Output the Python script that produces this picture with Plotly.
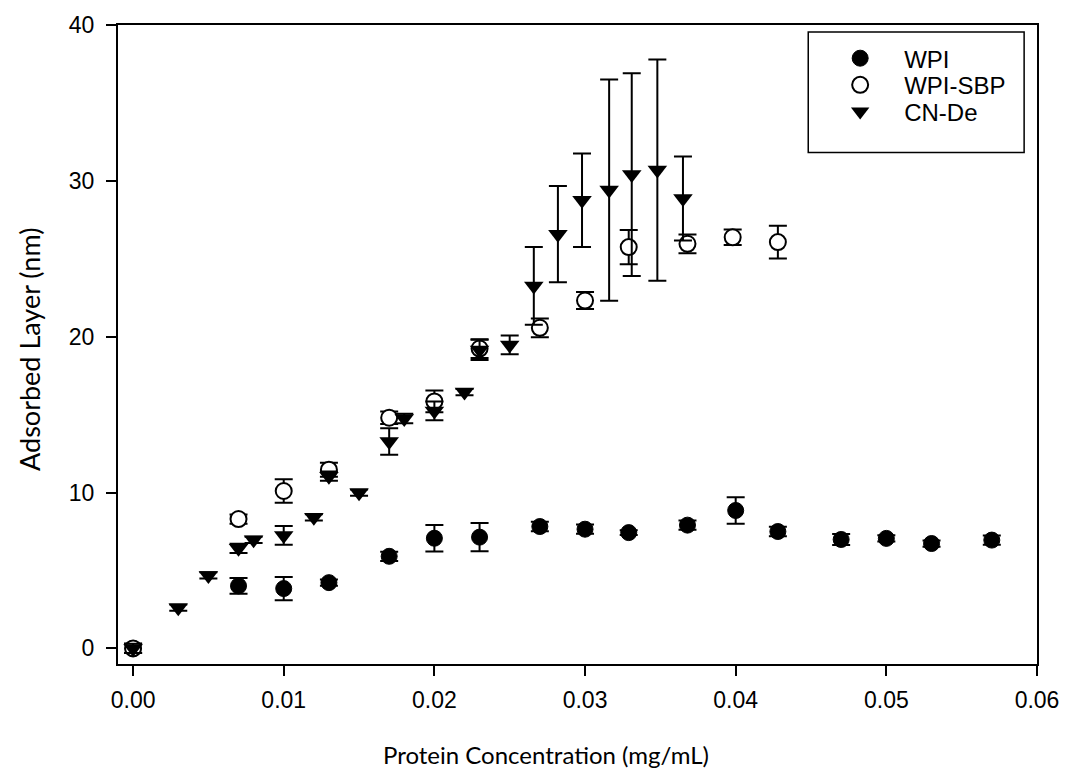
import plotly.graph_objects as go

# ---- data ----
wpi_x = [0.000, 0.007, 0.010, 0.013, 0.017, 0.020, 0.023, 0.027, 0.030, 0.0329,
         0.0368, 0.040, 0.0428, 0.047, 0.050, 0.053, 0.057]
wpi_y = [0.00, 4.01, 3.84, 4.22, 5.91, 7.07, 7.14, 7.82, 7.65, 7.43,
         7.91, 8.85, 7.50, 6.99, 7.06, 6.73, 6.95]
wpi_err = [0.30, 0.50, 0.75, 0.20, 0.30, 0.85, 0.90, 0.30, 0.30, 0.15,
           0.30, 0.85, 0.30, 0.35, 0.20, 0.20, 0.30]

sbp_x = [0.000, 0.007, 0.010, 0.013, 0.017, 0.020, 0.023, 0.027, 0.030, 0.0329,
         0.0368, 0.0398, 0.0428]
sbp_y = [0.00, 8.30, 10.10, 11.47, 14.80, 15.85, 19.24, 20.57, 22.32, 25.75,
         25.96, 26.38, 26.07]
sbp_err = [0.30, 0.30, 0.75, 0.45, 0.40, 0.70, 0.60, 0.60, 0.55, 1.10,
           0.60, 0.50, 1.05]

cn_x = [0.000, 0.003, 0.005, 0.007, 0.008, 0.010, 0.012, 0.013, 0.015, 0.017,
        0.018, 0.020, 0.022, 0.023, 0.025, 0.0266, 0.0282, 0.0298, 0.0316,
        0.0331, 0.0348, 0.0365]
cn_y = [0.00, 2.61, 4.68, 6.42, 6.97, 7.25, 8.41, 11.05, 9.99, 13.27,
        14.75, 15.24, 16.45, 19.15, 19.47, 23.26, 26.58, 28.76, 29.41,
        30.40, 30.69, 28.87]
cn_err = [0.30, 0.20, 0.20, 0.30, 0.20, 0.60, 0.20, 0.30, 0.20, 0.85,
          0.30, 0.60, 0.20, 0.65, 0.60, 2.49, 3.09, 3.00, 7.10,
          6.50, 7.10, 2.70]

x_ticks = [0.00, 0.01, 0.02, 0.03, 0.04, 0.05, 0.06]
y_ticks = [0, 10, 20, 30, 40]

series = [
    ("WPI", wpi_x, wpi_y, wpi_err, dict(symbol="circle", size=16, color="black",
                                        line=dict(color="black", width=1))),
    ("WPI-SBP", sbp_x, sbp_y, sbp_err, dict(symbol="circle", size=16, color="white",
                                            line=dict(color="black", width=2))),
    ("CN-De", cn_x, cn_y, cn_err, dict(symbol="triangle-down", size=17, color="black",
                                       line=dict(color="black", width=0))),
]

# plot area in pixels (figure 1071x781)
L, R, T, B = 118, 1046, 17, 664
PW, PH = R - L, B - T


def px(xp):
    return (xp - L) / PW


def py(yp):
    return (B - yp) / PH


legend_ids = ["legend", "legend2", "legend3"]
row_y = [51, 78, 105]

fig = go.Figure()
for (name, xs, ys, es, mk), lid in zip(series, legend_ids):
    fig.add_trace(go.Scatter(
        x=xs, y=ys, name=name, mode="markers", marker=mk, legend=lid,
        error_y=dict(type="data", array=es, visible=True, color="black",
                     thickness=2, width=9),
    ))

tick_font = dict(family="Liberation Sans, Arial, sans-serif", size=23, color="black")
title_family = "Comic Sans MS, Lato, sans-serif"
legend_font = dict(family="Liberation Sans, Arial, sans-serif", size=24, color="black")

legend_common = dict(xanchor="left", yanchor="middle", bgcolor="rgba(0,0,0,0)",
                     borderwidth=0, font=legend_font, itemwidth=78)

layout_legends = {}
for lid, yrow in zip(legend_ids, row_y):
    layout_legends[lid] = dict(legend_common, x=px(823), y=py(yrow))

fig.update_layout(
    width=1071, height=781,
    margin=dict(l=L, r=1071 - R, t=T, b=781 - B),
    paper_bgcolor="white", plot_bgcolor="white",
    showlegend=True,
    **layout_legends,
    shapes=[dict(type="rect", xref="paper", yref="paper",
                 x0=px(815), x1=px(1033), y0=py(146), y1=py(24),
                 line=dict(color="black", width=1.5), fillcolor="rgba(0,0,0,0)")],
    annotations=[
        dict(text="Protein Concentration (mg/mL)", xref="paper", yref="paper",
             x=px(550), y=0, xanchor="center", yanchor="middle", yshift=-(754 - B),
             showarrow=False, font=dict(family=title_family, size=24, color="black")),
        dict(text="Adsorbed Layer (nm)", xref="paper", yref="paper",
             x=0, y=py(346), xanchor="center", yanchor="middle", xshift=-(L - 30),
             textangle=-90, showarrow=False,
             font=dict(family=title_family, size=27, color="black")),
    ],
    xaxis=dict(
        range=[-0.001, 0.06], tickvals=x_ticks, tickformat=".2f",
        ticks="outside", ticklen=10, tickwidth=1.5, tickcolor="black",
        showline=True, linecolor="black", linewidth=2, mirror=True,
        showgrid=False, zeroline=False, tickfont=tick_font, ticklabelstandoff=4,
    ),
    yaxis=dict(
        range=[-1, 40], tickvals=y_ticks,
        ticks="outside", ticklen=10, tickwidth=1.5, tickcolor="black",
        showline=True, linecolor="black", linewidth=2, mirror=True,
        showgrid=False, zeroline=False, tickfont=tick_font, ticklabelstandoff=7,
    ),
)

fig.write_html("out.html")
